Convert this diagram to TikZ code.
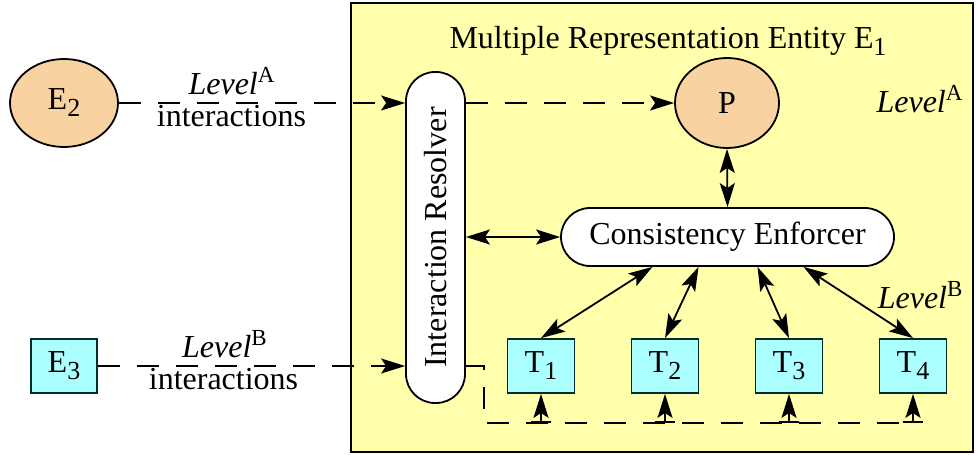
\documentclass[tikz,border=0pt]{standalone}
\usepackage{fontspec}
\setmainfont{Liberation Serif}
\usetikzlibrary{arrows.meta,shapes.geometric}
\definecolor{entyellow}{RGB}{255,255,172}
\definecolor{repcyan}{RGB}{172,255,255}
\definecolor{peach}{RGB}{248,210,160}
\newcommand\lsub[1]{\raisebox{-3.5pt}{\fontsize{13}{13}\selectfont #1}}
\newcommand\lsup[1]{\raisebox{6pt}{\fontsize{11.5}{12}\selectfont #1}}

\begin{document}
\begin{tikzpicture}[x=0.5pt,y=-0.5pt,line width=0.9pt,
  >={Stealth[length=12pt,width=7.5pt,inset=2.5pt]},
  font=\fontsize{16}{19}\selectfont,
  flow/.style={dash pattern=on 11pt off 8.5pt},
  oval/.style={ellipse,draw,fill=peach,inner sep=0pt},
  tbox/.style={draw=black!65!teal,fill=repcyan,minimum width=33.5pt,minimum height=27pt,inner sep=0pt},
  pill/.style={draw,fill=white,rounded corners=14.5pt,inner sep=0pt}]
\useasboundingbox (0,0) rectangle (977,454);
% 多表示实体（黄色框）
\node[draw,fill=entyellow,minimum width=311pt,minimum height=224.5pt,inner sep=0pt] (ent) at (662,227.5) {};
\node[anchor=base] (title) at (668,49) {Multiple Representation Entity E\lsub{1}};
% 外部实体
\node[oval,minimum width=54pt,minimum height=44pt] (E2) at (64,103) {E\lsub{2}};
\node[tbox,minimum width=33pt] (E3) at (64,366) {E\lsub{3}};
% 内部组件
\node[pill,rotate=90,minimum width=165.5pt,minimum height=29.5pt] (IR) at (435.5,237.5) {Interaction Resolver};
\node[oval,minimum width=52pt,minimum height=45pt] (P) at (727,103) {P};
\node[pill,minimum width=166.5pt,minimum height=29pt] (CE) at (727.5,237) {Consistency Enforcer};
\foreach \i/\x in {1/541,2/665,3/789,4/913}
  \node[tbox] (T\i) at (\x,366) {T\lsub{\i}};
% 层次标签
\node[anchor=base] (lvlAl) at (231.5,95) {\textit{Level}\lsup{A}};
\node[anchor=base] (intA) at (231.5,127) {interactions};
\node[anchor=base] (lvlBl) at (224.5,357) {\textit{Level}\lsup{B}};
\node[anchor=base] (intB) at (223.5,389) {interactions};
\node[anchor=base east] (lvlAr) at (970,113) {\textit{Level}\lsup{A}};
\node[anchor=base east] (lvlBr) at (970,308) {\textit{Level}\lsup{B}};
% 交互（虚线）
\draw[flow,->] (E2.east) -- (E2.east -| IR.north);
\draw[flow,->] (E3.east) -- (E3.east -| IR.north);
\draw[flow,->] (P.west -| IR.south) -- (P.west);
% 一致性维护（双向箭头）
\draw[<->] (P.south) -- (CE.north);
\draw[<->] (CE.west -| IR.south) -- (CE.west);
\foreach \i/\dx in {1/-37.5,2/-14.5,3/15,4/38}
  \draw[<->] ([xshift=\dx pt]CE.south) -- (T\i.north);
% 底部回路
\coordinate (bend) at (484,423);
\draw[flow] (T1.west -| IR.south) -| (bend) -- (bend -| T4.south);
\foreach \i in {1,...,4}
  \draw[{Bar[width=10pt]}->] (T\i.south |- bend) -- (T\i.south);
\end{tikzpicture}
\end{document}
